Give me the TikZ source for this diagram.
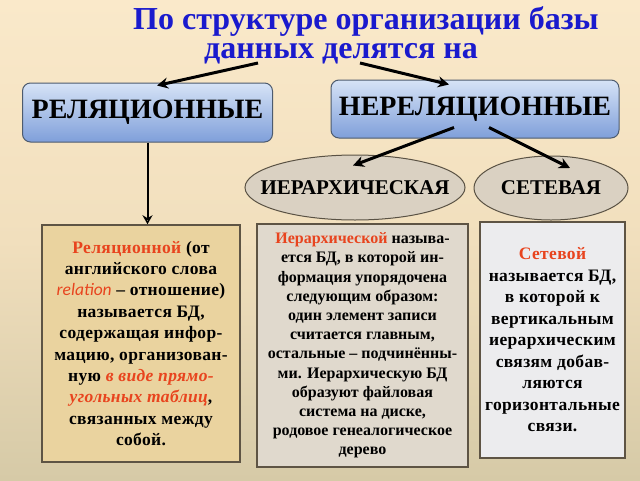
\documentclass[tikz,border=0pt]{standalone}
\usepackage{fontspec}
\setmainfont{Liberation Serif}
\newfontfamily\carlito{Carlito}
\usetikzlibrary{arrows.meta,shapes.geometric,calc}
\definecolor{ttl}{HTML}{1A1ACD}
\definecolor{rd}{HTML}{E8441E}
\definecolor{bgtop}{HTML}{FAE9CA}
\definecolor{bgmid}{HTML}{F1DFBD}
\definecolor{bgbot}{HTML}{D6CAA7}
\definecolor{bluetop}{HTML}{D6E3F6}
\definecolor{bluebot}{HTML}{7F9FDA}
\definecolor{bluedraw}{HTML}{4D5B6E}
\definecolor{ellfill}{HTML}{DAD1C2}
\definecolor{ellbord}{HTML}{5A5244}
\definecolor{papyrus}{HTML}{EAD39F}
\definecolor{sand}{HTML}{E0D9CD}
\definecolor{marble}{HTML}{ECECEE}
\definecolor{boxbord}{HTML}{5E5444}
\begin{document}
\begin{tikzpicture}[x=1pt,y=-1pt,
  ttlstyle/.style={text=ttl,font=\fontsize{32}{35}\selectfont\bfseries,inner sep=0},
  bluebox/.style={rectangle,rounded corners=8pt,draw=bluedraw,line width=1pt,
    top color=bluetop,bottom color=bluebot,inner sep=0,
    font=\fontsize{28}{30}\selectfont\bfseries},
  ellnode/.style={ellipse,draw=ellbord,line width=1pt,fill=ellfill,inner sep=0},
  elltext/.style={inner sep=0,font=\fontsize{21}{23}\selectfont\bfseries},
  textbox/.style={rectangle,draw=boxbord,line width=1.5pt,inner sep=0,align=center},
  bigarrow/.style={line width=3pt,-{Stealth[length=11pt,width=11pt]}},
  tick/.style={line width=4pt}
]
\useasboundingbox (0,0) rectangle (640,480);
\shade[top color=bgtop,bottom color=bgbot,middle color=bgmid] (0,0) rectangle (640,480);

\node[ttlstyle] (t1) at (366,21) {По структуре организации базы};
\node[ttlstyle] (t2) at (341,54) {данных делятся на};

\node[bluebox,minimum width=250pt,minimum height=59pt] (rel) at (147.5,112.5) {РЕЛЯЦИОННЫЕ};
\node[bluebox,minimum width=288pt,minimum height=58pt] (nrel) at (475,109) {НЕРЕЛЯЦИОННЫЕ};

\node[ellnode,minimum width=220pt,minimum height=65pt] (ier) at (355,187.5) {};
\node[elltext] (iert) at (ier.center) {ИЕРАРХИЧЕСКАЯ};
\node[ellnode,minimum width=154pt,minimum height=64pt] (set) at (551,188) {};
\node[elltext] (sett) at (set.center) {СЕТЕВАЯ};

\node[textbox,fill=papyrus,minimum width=198pt,minimum height=237pt,
  font=\fontsize{17.5}{21.4}\selectfont\bfseries\addfontfeatures{LetterSpace=2}] (lbox) at (141,343.5) {%
{\color{rd}Реляционной} (от\\
английского слова\\
{\color{rd}\carlito\itshape\mdseries relation} – отношение)\\
называется БД,\\
содержащая инфор-\\
мацию, организован-\\
ную {\color{rd}\itshape в виде прямо-}\\
{\color{rd}\itshape угольных таблиц},\\
связанных между\\
собой.};

\node[textbox,fill=sand,minimum width=211pt,minimum height=243pt,
  font=\fontsize{16}{19.2}\selectfont\bfseries] (mbox) at (362.5,345.5) {%
{\color{rd}Иерархической} называ-\\
ется БД, в которой ин-\\
формация упорядочена\\
следующим образом:\\
один элемент записи\\
считается главным,\\
остальные – подчинённы-\\
ми. Иерархическую БД\\
образуют файловая\\
система на диске,\\
родовое генеалогическое\\
дерево};

\node[textbox,fill=marble,minimum width=145pt,minimum height=236pt,
  font=\fontsize{17.5}{21.5}\selectfont\bfseries\addfontfeatures{LetterSpace=2}] (rbox) at (552.5,340) {%
{\color{rd}Сетевой}\\
называется БД,\\
в которой к\\
вертикальным\\
иерархическим\\
связям добав-\\
ляются\\
горизонтальные\\
связи.};

\coordinate (s1) at (258,63);
\coordinate (s2) at (360,63);
\draw[bigarrow] (s1) -- ($(rel.north)+(9.5,3)$);
\draw[bigarrow] (s2) -- ($(nrel.north)+(-26,5)$);
\draw[bigarrow] ($(nrel.south)+(-21,-11)$) -- ($(ier.center)+(-2,-22)$);
\draw[bigarrow] ($(nrel.south)+(14,-11)$) -- ($(set.center)+(19,-20)$);

\draw[line width=2pt,-{Stealth[open,length=9pt,width=10pt,line width=1.5pt]}] (rel.south) -- (rel.south |- lbox.north);

\draw[tick] ($(ier.south)+(-8,-3)$) -- ($(ier.south)+(-8,-3)$ |- mbox.north);
\draw[tick] ($(set.south)+(-3,-3)$) -- ($(set.south)+(-3,-3)$ |- rbox.north);
\end{tikzpicture}
\end{document}
